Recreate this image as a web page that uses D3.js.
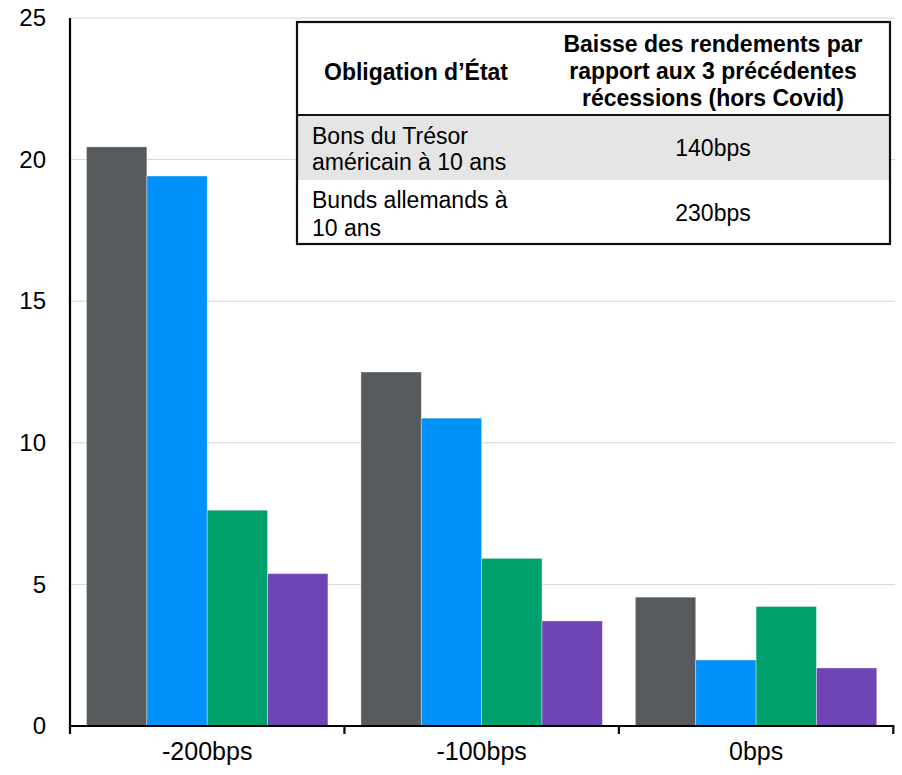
<!DOCTYPE html>
<html>
<head>
<meta charset="utf-8">
<script src="https://cdn.jsdelivr.net/npm/d3@7"></script>
<style>
  html, body { margin: 0; padding: 0; background: #fff; }
  svg { display: block; font-family: "Liberation Sans", Arial, sans-serif; }
</style>
</head>
<body>
<svg id="chart" width="902" height="775"></svg>
<script>
// ---- Data ----
const categories = ["-200bps", "-100bps", "0bps"];
const seriesNames = ["s1", "s2", "s3", "s4"];
const series1 = [20.45, 12.5, 4.55];
const series2 = [19.42, 10.87, 2.33];
const series3 = [7.62, 5.92, 4.22];
const series4 = [5.38, 3.71, 2.05];
const seriesColors = ["#575a5d", "#0091fa", "#00a06c", "#6f45b5"];
const yTicks = [0, 5, 10, 15, 20, 25];

const tableHeader = [["Obligation d’État"], ["Baisse des rendements par", "rapport aux 3 précédentes", "récessions (hors Covid)"]];
const tableRows = [
  { name: ["Bons du Trésor", "américain à 10 ans"], value: "140bps" },
  { name: ["Bunds allemands à", "10 ans"], value: "230bps" }
];

const allSeries = [series1, series2, series3, series4];

// ---- Layout ----
const svg = d3.select("#chart");
const pLeft = 70, pRight = 893.3, pTop = 18, pBottom = 726;

const x = d3.scaleBand().domain(categories).range([pLeft, pRight]).padding(0);
const bw = x.bandwidth();
const xInner = d3.scaleBand().domain(seriesNames).range([16.5, bw - 16.5]).padding(0);
const y = d3.scaleLinear().domain([0, 25]).range([pBottom, pTop]);

// gridlines
svg.append("g").selectAll("line").data(yTicks.filter(d => d > 0)).join("line")
  .attr("x1", pLeft + 1).attr("x2", 895)
  .attr("y1", d => y(d)).attr("y2", d => y(d))
  .attr("stroke", "#d4d4d4").attr("stroke-width", 1);

// bars
const groups = svg.append("g").selectAll("g").data(categories).join("g")
  .attr("transform", d => `translate(${x(d)},0)`);
groups.selectAll("rect").data((c, i) => allSeries.map((s, k) => ({ k, v: s[i] }))).join("rect")
  .attr("x", d => xInner(seriesNames[d.k]))
  .attr("width", xInner.bandwidth())
  .attr("y", d => y(d.v))
  .attr("height", d => y(0) - y(d.v))
  .attr("fill", d => seriesColors[d.k])
  .attr("stroke", "rgba(255,255,255,0.45)")
  .attr("stroke-width", 0.8);

// y axis labels
const yAxis = svg.append("g").attr("transform", `translate(${pLeft},0)`)
  .call(d3.axisLeft(y).tickValues(yTicks).tickSize(0).tickPadding(24));
yAxis.select(".domain").remove();
yAxis.selectAll("text").attr("font-size", 24).attr("fill", "#000")
  .attr("font-family", "Liberation Sans, Arial, sans-serif");

// y axis line
svg.append("line").attr("x1", pLeft).attr("x2", pLeft).attr("y1", pTop).attr("y2", pBottom + 1)
  .attr("stroke", "#000").attr("stroke-width", 2.2);

// x axis
const xAxis = svg.append("g").attr("transform", `translate(0,${pBottom})`)
  .call(d3.axisBottom(x).tickSize(0).tickPadding(16));
xAxis.select(".domain").remove();
xAxis.selectAll("text").attr("font-size", 25).attr("fill", "#000")
  .attr("font-family", "Liberation Sans, Arial, sans-serif");

svg.append("line").attr("x1", pLeft - 1).attr("x2", pRight + 1).attr("y1", pBottom).attr("y2", pBottom)
  .attr("stroke", "#000").attr("stroke-width", 2.2);
const boundaries = categories.map(c => x(c)).concat([pRight]);
svg.append("g").selectAll("line").data(boundaries).join("line")
  .attr("x1", d => d).attr("x2", d => d)
  .attr("y1", pBottom).attr("y2", pBottom + 8)
  .attr("stroke", "#000").attr("stroke-width", 2.2);

// ---- Table ----
const tX = 297, tY = 22, tW = 593, tH = 222;
const hdrBottom = 115, row1Bottom = 180;
const col1X = 312, col1C = 416, col2C = 713;
const tg = svg.append("g");
tg.append("rect").attr("x", tX).attr("y", tY).attr("width", tW).attr("height", tH).attr("fill", "#fff");
tg.append("rect").attr("x", tX).attr("y", hdrBottom).attr("width", tW).attr("height", row1Bottom - hdrBottom).attr("fill", "#e4e5e4");
tg.append("line").attr("x1", tX).attr("x2", tX + tW).attr("y1", hdrBottom).attr("y2", hdrBottom)
  .attr("stroke", "#111").attr("stroke-width", 2);
tg.append("rect").attr("x", tX).attr("y", tY).attr("width", tW).attr("height", tH)
  .attr("fill", "none").attr("stroke", "#111").attr("stroke-width", 2.2);

const fs = 23;
function block(lines, cx, cy, anchor, bold, lh) {
  const n = lines.length;
  lines.forEach((t, i) => {
    tg.append("text").attr("x", cx).attr("y", cy + (i - (n - 1) / 2) * lh)
      .attr("dy", "0.35em").attr("text-anchor", anchor)
      .attr("font-size", fs).attr("font-weight", bold ? "bold" : "normal")
      .attr("fill", "#000").text(t);
  });
}
block(tableHeader[0], col1C, 72, "middle", true, 27);
block(tableHeader[1], col2C, 71, "middle", true, 27);
block(tableRows[0].name, col1X, 149, "start", false, 26);
block([tableRows[0].value], col2C, 148, "middle", false, 26);
block(tableRows[1].name, col1X, 214, "start", false, 28);
block([tableRows[1].value], col2C, 213, "middle", false, 28);
</script>
</body>
</html>
